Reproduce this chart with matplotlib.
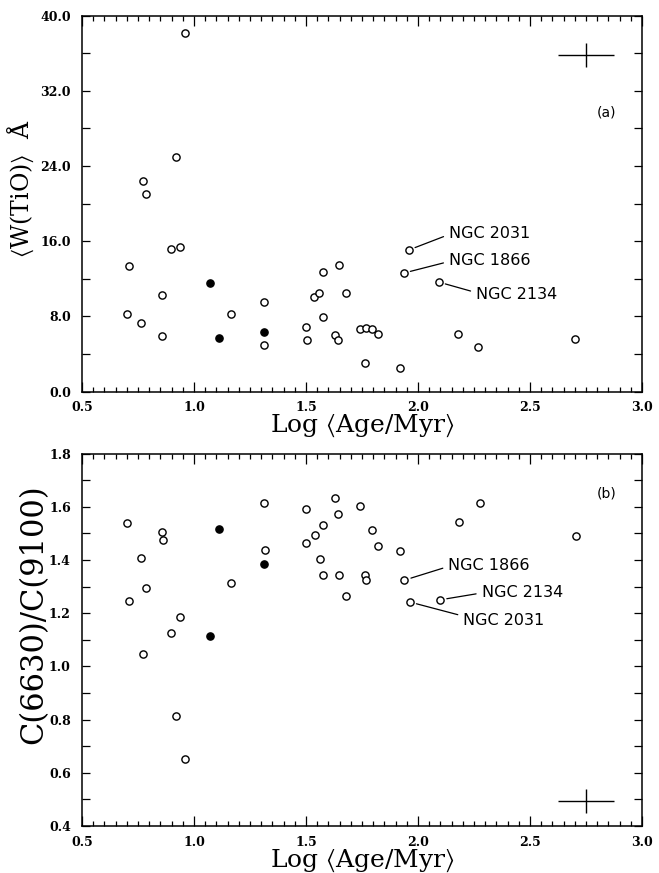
import matplotlib
matplotlib.use("Agg")
import matplotlib.pyplot as plt
from matplotlib.ticker import MultipleLocator, FuncFormatter

plt.rcParams['mathtext.fontset'] = 'stix'

# panel (a): <W(TiO)> against log age
tio_age_open = [0.960, 0.920, 0.771, 0.786, 0.710, 0.897, 0.939, 0.857, 0.701, 0.762,
                1.164, 0.859, 1.314, 1.311, 1.501, 1.503, 1.537, 1.559, 1.576, 1.647,
                1.680, 1.574, 1.629, 1.644, 1.740, 1.768, 1.795, 1.820, 1.763, 1.920,
                2.180, 2.269, 2.701]
tio_open = [38.1, 24.95, 22.45, 21.05, 13.4, 15.2, 15.35, 10.3, 8.2, 7.3,
            8.3, 5.95, 9.55, 5.0, 6.85, 5.45, 10.1, 10.5, 12.75, 13.45,
            10.5, 7.95, 6.0, 5.45, 6.7, 6.8, 6.7, 6.15, 3.0, 2.55,
            6.1, 4.75, 5.6]
tio_age_filled = [1.071, 1.112, 1.311]
tio_filled = [11.55, 5.65, 6.3]

# panel (b): C(6630)/C(9100) against log age
col_age_open = [0.702, 0.859, 0.860, 0.763, 0.787, 0.710, 1.164, 0.939, 0.899, 0.771,
                0.918, 0.958, 1.311, 1.315, 1.500, 1.628, 1.643, 1.577, 1.540, 1.499,
                1.561, 1.574, 1.646, 1.680, 1.740, 1.795, 1.820, 1.763, 1.768, 1.921,
                2.184, 2.275, 2.704]
col_open = [1.538, 1.506, 1.476, 1.407, 1.295, 1.244, 1.314, 1.185, 1.124, 1.045,
            0.812, 0.651, 1.615, 1.436, 1.592, 1.633, 1.573, 1.532, 1.494, 1.464,
            1.404, 1.343, 1.343, 1.263, 1.603, 1.512, 1.452, 1.344, 1.324, 1.435,
            1.542, 1.613, 1.490]
col_age_filled = [1.113, 1.071, 1.311]
col_filled = [1.516, 1.114, 1.385]

# named clusters
ngc_names = ["NGC 2031", "NGC 1866", "NGC 2134"]
ngc_age_a = [1.958, 1.936, 2.092]
ngc_tio = [15.05, 12.6, 11.65]
ngc_age_b = [1.963, 1.939, 2.098]
ngc_col = [1.242, 1.324, 1.250]

# typical error bars (x half-width, y half-height)
err_age = 0.125
err_tio = 1.28
err_col = 0.045

tick_font = dict(family='DejaVu Serif', weight='bold', size=9)
ngc_font = dict(family='DejaVu Sans', size=11.5)


def style_axes(ax, ymajor, ylabel_step, yfmt):
    ax.set_xlim(0.5, 3.0)
    ax.xaxis.set_major_locator(MultipleLocator(0.5))
    ax.xaxis.set_minor_locator(MultipleLocator(0.05))
    ax.yaxis.set_major_locator(MultipleLocator(ymajor))
    ax.yaxis.set_major_formatter(FuncFormatter(
        lambda v, p: yfmt.format(v) if abs(v / ylabel_step - round(v / ylabel_step)) < 1e-6 else ""))
    ax.xaxis.set_major_formatter(FuncFormatter(lambda v, p: f"{v:.1f}"))
    ax.tick_params(which='both', direction='in', top=True, right=True, width=0.9)
    ax.tick_params(which='major', axis='x', length=7, pad=7)
    ax.tick_params(which='minor', axis='x', length=3.5)
    ax.tick_params(which='major', axis='y', length=6, pad=8)
    for lab in ax.get_xticklabels() + ax.get_yticklabels():
        lab.set_fontfamily(tick_font['family'])
        lab.set_fontweight(tick_font['weight'])
        lab.set_fontsize(tick_font['size'])
    for s in ax.spines.values():
        s.set_linewidth(1.1)
    ax.set_xlabel(r'Log $\langle$Age/Myr$\rangle$', labelpad=-1, family='DejaVu Serif', size=18)


def scatter_panel(ax, xo, yo, xf, yf):
    ax.plot(xo, yo, 'o', ms=5.2, mfc='white', mec='black', mew=1.0, ls='none')
    ax.plot(xf, yf, 'o', ms=5.2, mfc='black', mec='black', mew=1.0, ls='none')


fig = plt.figure(figsize=(6.59, 8.73), dpi=100)
ax_a = fig.add_axes([0.1244, 0.5515, 0.8498, 0.4307])
ax_b = fig.add_axes([0.1244, 0.0538, 0.8498, 0.4267])

# --- panel (a)
scatter_panel(ax_a, tio_age_open + ngc_age_a, tio_open + ngc_tio, tio_age_filled, tio_filled)
ax_a.set_ylim(0.0, 40.0)
style_axes(ax_a, 4.0, 8.0, "{:.1f}")
ax_a.set_ylabel(r'$\langle$W(TiO)$\rangle$  Å', family='DejaVu Serif', size=17)
ax_a.yaxis.set_label_coords(-0.082, 0.54)
ax_a.errorbar([2.749], [35.8], xerr=err_age, yerr=err_tio, fmt='none', ecolor='black', elinewidth=1.0, capsize=0)
ax_a.text(2.84, 29.7, "(a)", ha='center', va='center', family='DejaVu Sans', size=10)

text_a = [(2.138, 16.86, (0, 0.4)), (2.138, 13.99, (0, 0.4)), (2.259, 10.37, (0, 0.6))]
for name, x, y, (tx, ty, rp) in zip(ngc_names, ngc_age_a, ngc_tio, text_a):
    ax_a.annotate(name, xy=(x, y), xytext=(tx, ty), ha='left', va='center', **ngc_font,
                  arrowprops=dict(arrowstyle='-', lw=0.9, color='black', relpos=rp,
                                  shrinkA=2, shrinkB=5))

# --- panel (b)
scatter_panel(ax_b, col_age_open + ngc_age_b, col_open + ngc_col, col_age_filled, col_filled)
ax_b.set_ylim(0.4, 1.8)
style_axes(ax_b, 0.1, 0.2, "{:.1f}")
ax_b.set_ylabel('C(6630)/C(9100)', family='DejaVu Serif', size=22)
ax_b.yaxis.set_label_coords(-0.058, 0.57)
ax_b.errorbar([2.749], [0.495], xerr=err_age, yerr=err_col, fmt='none', ecolor='black', elinewidth=1.0, capsize=0)
ax_b.text(2.84, 1.65, "(b)", ha='center', va='center', family='DejaVu Sans', size=10)

text_b = {"NGC 1866": (2.135, 1.381, (0, 0.4)),
          "NGC 2134": (2.284, 1.276, (0, 0.5)),
          "NGC 2031": (2.202, 1.172, (0, 0.8))}
for name, x, y in zip(ngc_names, ngc_age_b, ngc_col):
    tx, ty, rp = text_b[name]
    ax_b.annotate(name, xy=(x, y), xytext=(tx, ty), ha='left', va='center', **ngc_font,
                  arrowprops=dict(arrowstyle='-', lw=0.9, color='black', relpos=rp,
                                  shrinkA=2, shrinkB=5))

fig.savefig("out.png", dpi=100)
